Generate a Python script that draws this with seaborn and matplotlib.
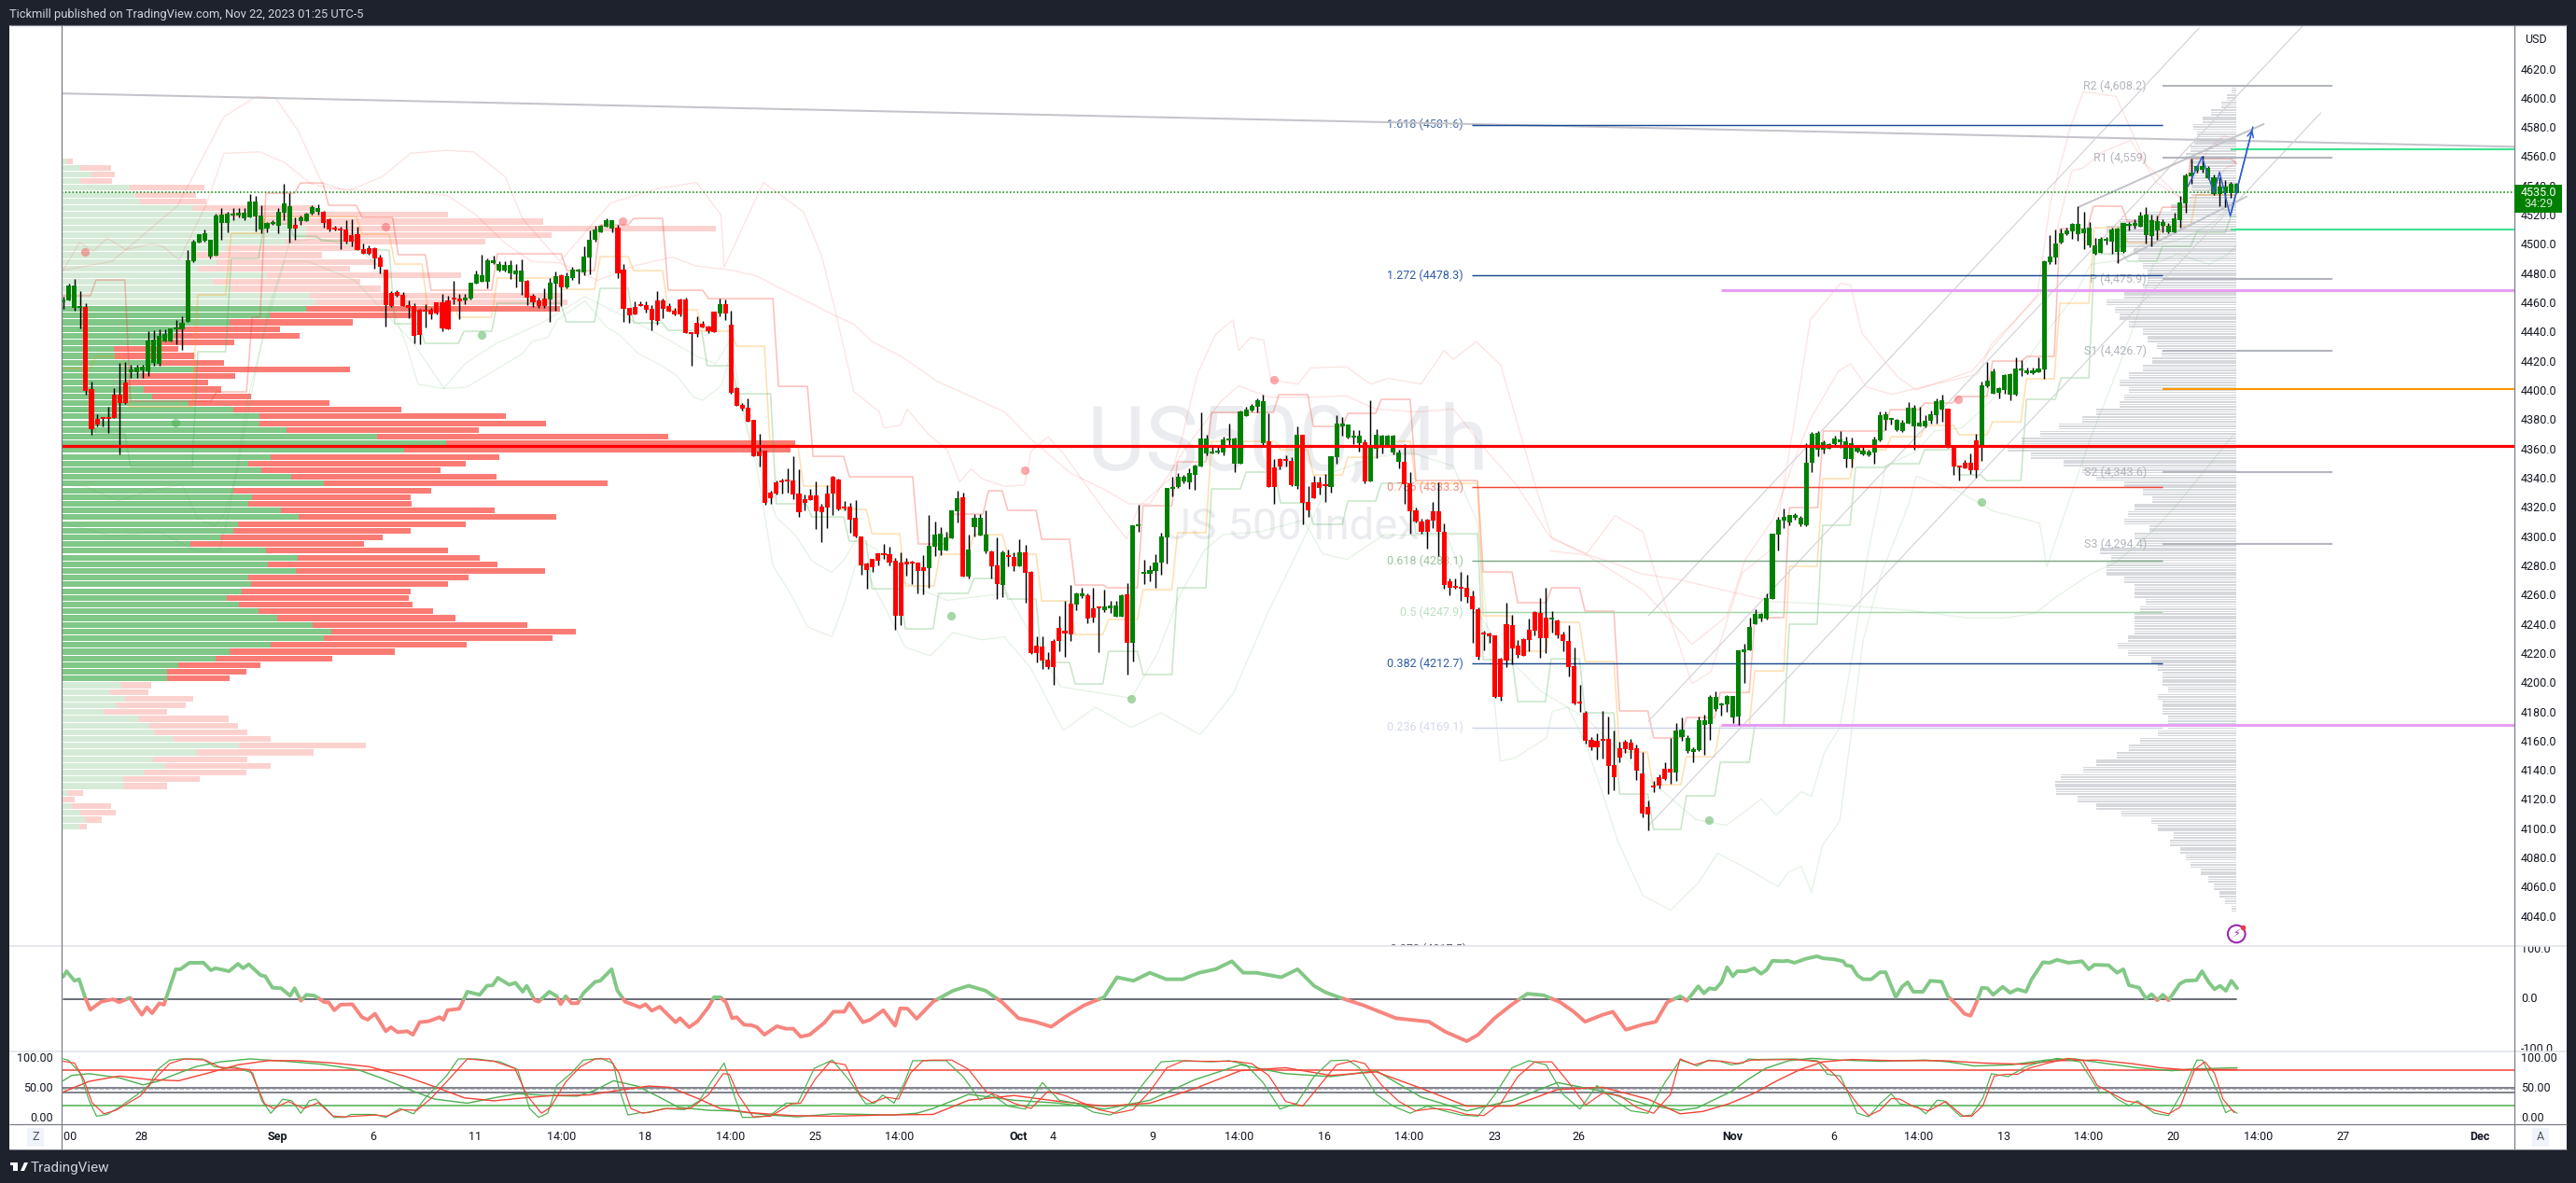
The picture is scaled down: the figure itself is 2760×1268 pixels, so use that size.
import numpy as np
import matplotlib
matplotlib.use("Agg")
import matplotlib.pyplot as plt
import seaborn as sns
from matplotlib.lines import Line2D
from matplotlib.patches import Rectangle, Polygon
from matplotlib.transforms import Bbox

W, H = 2760, 1268

# --- candles, 4h bars ---
opens = [4460.2,4461.3,4456.4,4456.4,4456.6,4400.6,4380.2,4380.8,4381.5,4396.8,
4396.8,4405.3,4412.3,4412.1,4413.6,4412.8,4418.5,4417.9,4433.4,4433.4,
4441.7,4441.7,4446.8,4488.1,4501.1,4501.9,4491.3,4492.2,4514.3,4514.3,
4519.6,4519.6,4517.5,4518.3,4519.0,4509.8,4510.7,4513.4,4512.4,4521.3,
4510.5,4513.0,4515.6,4515.6,4520.7,4522.0,4522.0,4516.9,4510.3,4509.8,
4509.8,4506.0,4506.6,4496.4,4497.1,4497.1,4490.7,4482.4,4466.4,4467.0,
4465.1,4458.1,4457.5,4454.9,4454.3,4454.9,4460.0,4460.0,4461.3,4462.6,
4462.6,4461.3,4462.6,4472.8,4474.1,4474.1,4486.8,4481.7,4481.7,4479.8,
4479.2,4474.1,4474.7,
4464.4,4461.3,4462.8,4462.0,4473.0,4478.5,4470.5,4476.5,4481.1,4480.4,
4490.6,4502.9,4508.2,4511.7,4510.4,4511.0,4482.4,4456.2,4457.1,4458.0,
4458.0,4455.6,4461.3,4461.3,4457.3,4454.3,4462.0,4462.0,4439.7,4445.9,
4445.2,4443.3,4453.6,4452.3,4458.7,4444.6,4401.2,4389.8,4387.6,4379.5,
4357.9,4358.3,4329.7,4336.8,4338.3,4338.3,4337.9,4329.1,4325.1,4327.8,
4327.8,4320.0,4329.1,4340.5,4338.5,4320.0,4320.0,4312.4,4299.6,4281.1,
4284.2,4288.2,4288.2,4287.5,4283.1,4281.8,4282.4,4282.0,4281.8,4278.5,
4277.8,4292.6,4289.9,4290.1,4298.3,4317.0,4326.4,4272.1,4306.0,4300.3,4289.7,
4289.5,4279.9,4266.7,4286.3,4285.7,4279.5,4288.9,4275.5,4225.0,4224.4,
4215.4,4228.2,4237.1,4235.2,4253.7,4253.1,4258.9,4259.5,4250.5,4251.2,
4249.3,4250.5,4244.8,4244.8,4260.1,4226.9,4306.8,4274.2,4274.2,4276.1,
4281.8,4299.1,4332.3,4333.6,4337.4,4336.8,4341.9,4347.6,4356.6,4356.4,
4357.0,4357.2,4365.5,4349.5,4349.5,4382.1,4386.0,4388.5,4363.6,4364.9,
4347.0,4352.7,4352.1,4351.5,4334.2,4369.4,4323.4,4336.8,4336.8,4334.9,
4333.6,4354.0,4375.1,4367.4,4367.4,4363.6,4364.2,4337.4,4359.8,4361.7,
4361.7,4357.2,4350.8,4350.8,4336.1,4317.6,4310.0,4311.2,4317.0,4317.0,4302.9,
4269.1,4265.3,4264.7,4264.7,4258.9,4250.0,4233.4,4232.7,4232.1,4216.1,
4239.8,4239.1,4225.1,4229.5,4235.9,4248.1,4247.4,4244.2,4242.9,4242.3,
4232.7,4228.3,4211.0,4186.1,4179.1,4160.6,4159.9,4161.2,4161.2,4143.3,
4154.8,4159.3,4158.6,4154.8,4137.6,4114.6,4129.0,4135.0,4140.8,4140.8,
4138.2,4162.5,4152.7,4152.3,4153.5,4170.8,4171.4,4181.6,4184.2,4184.8,
4175.9,4176.5,4220.6,4221.9,4239.8,4243.6,4243.6,4257.0,4301.1,4310.6,
4309.4,4312.6,4308.1,4307.5,
4350.1,4359.1,4359.1,4359.7,4362.9,4364.2,4352.9,4352.9,4357.8,4355.9,
4355.2,4357.1,4365.4,4379.5,4379.5,4372.5,4371.8,4376.9,4375.0,4375.0,
4375.0,4378.9,4382.7,4386.5,4387.2,4361.6,4347.5,4350.5,4350.5,4365.4,
4361.0,4402.5,4397.4,4398.0,4399.9,4396.7,4396.7,4413.3,4411.4,4411.4,
4412.1,4414.0,4487.4,4490.6,4500.8,4506.6,4508.5,4506.6,4507.2,4498.9,
4493.2,4493.8,4502.1,4501.5,4494.5,4494.5,4512.3,4512.3,4511.7,4505.9,
4505.3,4509.1,4512.3,4507.9,4507.9,4516.2,4527.7,4546.2,4549.8,4550.7,
4544.9,4534.1,4534.1,4534.7,4534.7,4534.7]
closes = [4461.9,4471.5,4471.5,4456.8,4399.3,4373.2,4376.3,4380.4,4380.2,4381.0,
4391.2,4391.2,4414.0,4415.3,4415.7,4433.8,4434.5,4437.0,4438.3,4441.9,
4442.1,4446.0,4488.8,4501.5,4506.6,4507.3,4502.8,4519.4,4520.1,4520.7,
4520.3,4521.3,4521.3,4529.0,4529.0,4519.4,4514.3,4514.3,4522.0,4527.7,
4525.8,4510.5,4518.1,4520.7,4525.2,4524.5,4514.3,4509.8,4509.8,4509.2,
4501.5,4501.5,4495.8,4493.2,4493.2,4490.0,4484.3,4458.1,4457.5,4464.5,
4457.5,4456.4,4437.0,4437.7,4453.6,4451.7,4452.4,4442.1,4441.5,4461.9,
4460.7,4463.2,4473.4,4479.2,4478.5,4488.8,4488.8,4486.2,4485.6,4485.6,
4481.7,4481.7,4463.2,
4459.8,4457.8,4457.8,4473.4,4477.8,4470.5,4477.8,4482.4,4482.4,4491.2,
4503.1,4509.7,4512.3,4516.3,4516.3,4479.8,4455.6,4451.0,4451.6,4457.3,
4454.9,4447.9,4447.2,4455.6,4453.6,4451.6,4451.6,4438.9,4438.4,4438.2,
4442.6,4440.0,4439.5,4458.7,4452.3,4397.9,4389.1,4387.2,4378.1,4354.6,
4354.6,4322.7,4325.8,4329.1,4336.8,4337.2,4328.4,4316.3,4322.7,4324.5,
4317.0,4316.3,4319.4,4329.1,4318.1,4318.7,4311.0,4300.0,4279.8,4276.7,
4278.7,4283.1,4287.1,4281.8,4245.3,4245.3,4280.5,4281.3,4276.1,4276.1,
4293.2,4301.0,4301.6,4299.0,4317.4,4325.8,4272.1,4290.6,4312.4,4312.4,4300.9,
4279.5,4267.2,4288.9,4285.7,4279.5,4288.9,4275.0,4219.9,4219.9,4214.8,
4210.3,4210.3,4228.2,4233.3,4232.7,4260.8,4260.8,4243.5,4244.2,4250.5,
4251.8,4252.5,4252.5,4259.5,4226.9,4307.4,4307.6,4275.5,4276.7,4281.8,
4299.7,4332.9,4333.6,4340.4,4340.4,4342.9,4348.3,4366.8,4366.8,4357.8,
4357.8,4366.2,4366.8,4366.8,4385.3,4386.6,4389.1,4393.0,4392.3,4333.6,
4333.6,4347.6,4351.5,4334.9,4369.4,4322.7,4317.6,4325.9,4332.9,4334.2,
4354.7,4377.0,4377.0,4376.4,4368.7,4368.7,4337.4,4360.4,4369.4,4368.7,
4368.7,4368.7,4357.2,4335.5,4317.0,4310.0,4302.9,4302.9,4310.6,4302.9,4266.5,
4264.7,4264.7,4264.0,4258.3,4250.0,4217.4,4232.7,4231.7,4189.9,4189.9,
4214.8,4223.2,4218.7,4218.0,4228.9,4235.3,4230.2,4230.2,4243.6,4232.1,
4228.3,4210.4,4185.5,4185.5,4159.9,4155.4,4155.4,4159.9,4142.7,4135.0,
4148.4,4154.2,4153.5,4139.5,4110.1,4109.4,4128.0,4129.3,4133.7,4138.2,
4167.0,4167.6,4161.8,4154.2,4174.0,4174.0,4189.9,4189.9,4185.5,4190.6,
4190.6,4221.9,4222.5,4237.8,4246.8,4246.8,4257.6,4301.7,4311.3,4313.2,
4314.5,4314.5,4312.6,4350.1,
4369.9,4370.8,4364.2,4362.9,4366.7,4365.9,4364.8,4363.5,4361.4,4358.2,
4357.8,4366.1,4382.7,4383.3,4380.1,4379.5,4377.6,4387.8,4387.8,4377.6,
4378.9,4383.3,4392.3,4392.9,4361.6,4347.5,4346.9,4346.3,4345.0,4345.0,
4403.1,4406.3,4412.7,4401.2,4410.1,4410.8,4414.6,4414.0,4413.3,4413.3,
4414.6,4488.1,4491.3,4500.2,4507.2,4509.1,4513.6,4513.6,4510.4,4511.1,
4498.9,4503.4,4503.4,4509.8,4510.4,4514.3,4513.6,4514.3,4519.4,4520.0,
4516.2,4515.5,4515.1,4512.3,4517.4,4528.3,4546.8,4548.7,4553.2,4553.2,
4551.9,4545.6,4539.2,4539.2,4541.1,4541.1]
highs = [4463.6,4472.8,4476.0,4467.7,4459.4,4405.7,4383.4,4381.7,4388.5,4401.3,
4418.5,4418.9,4417.2,4417.0,4417.0,4440.2,4440.9,4441.3,4441.3,4442.1,
4447.7,4450.4,4495.6,4503.0,4506.9,4509.8,4503.0,4520.5,4524.7,4522.2,
4524.7,4524.7,4524.7,4534.1,4532.8,4526.4,4515.2,4516.4,4524.7,4540.9,
4534.9,4517.9,4519.6,4521.1,4526.4,4527.1,4522.6,4517.5,4512.6,4511.5,
4516.2,4516.9,4511.5,4500.5,4499.2,4497.5,4492.4,4482.4,4467.9,4468.3,
4467.2,4461.3,4459.4,4455.8,4458.7,4456.2,4460.0,4465.6,4464.7,4474.7,
4465.8,4465.8,4473.6,4481.7,4492.4,4489.8,4491.9,4488.1,4488.1,4488.5,
4486.0,4489.2,4475.3,
4466.1,4463.1,4469.4,4476.7,4480.9,4479.3,4480.4,4484.0,4483.1,4498.3,
4509.0,4512.1,4513.0,4517.2,4516.3,4513.0,4486.2,4456.2,4460.6,4460.6,
4460.6,4458.0,4467.7,4462.8,4459.1,4456.2,4462.8,4463.1,4439.7,4450.3,
4447.0,4444.1,4453.6,4462.4,4462.0,4454.3,4401.9,4390.9,4394.2,4379.5,
4370.0,4358.3,4330.8,4338.3,4339.6,4346.2,4354.6,4345.6,4328.6,4332.2,
4337.2,4322.0,4334.8,4341.4,4339.2,4323.8,4322.5,4324.5,4299.6,4282.0,
4284.2,4288.2,4294.5,4293.0,4284.9,4289.0,4284.9,4283.1,4282.0,4286.8,
4314.3,4310.2,4306.2,4302.9,4317.9,4330.8,4329.7,4301.1,4315.0,4315.0,4317.6,
4290.4,4299.1,4290.1,4290.8,4289.1,4297.8,4294.0,4276.1,4231.4,4231.4,
4220.5,4229.5,4245.4,4255.7,4266.3,4261.2,4264.6,4260.8,4264.6,4251.8,
4263.1,4255.7,4255.7,4260.3,4267.8,4307.6,4321.4,4283.8,4279.9,4287.6,
4302.3,4332.9,4340.6,4342.9,4341.7,4346.4,4348.7,4384.7,4369.3,4361.5,
4361.0,4367.9,4377.0,4367.4,4386.0,4388.5,4390.2,4394.0,4396.6,4384.0,
4352.9,4353.6,4355.3,4354.0,4375.1,4369.4,4334.2,4341.2,4340.6,4342.7,
4354.7,4383.0,4381.5,4376.4,4372.5,4372.5,4366.2,4393.0,4373.2,4369.4,
4369.4,4369.4,4359.3,4363.0,4343.8,4319.3,4311.9,4311.9,4323.4,4337.0,4308.7,
4271.1,4271.1,4275.5,4273.6,4262.5,4251.3,4235.3,4234.0,4232.1,4216.8,
4254.4,4246.1,4228.9,4230.2,4243.4,4248.7,4257.6,4264.7,4248.7,4242.9,
4234.9,4239.1,4223.8,4198.2,4180.4,4162.5,4165.0,4180.4,4176.5,4166.7,
4159.3,4160.4,4161.2,4157.2,4152.3,4118.8,4132.2,4136.9,4145.2,4161.8,
4172.1,4175.9,4163.5,4155.4,4176.7,4177.8,4191.2,4193.8,4185.9,4191.2,
4190.6,4222.1,4226.3,4244.2,4249.8,4247.6,4260.8,4301.7,4313.2,4319.0,
4314.7,4315.8,4314.1,4363.5,
4371.0,4372.0,4365.6,4363.5,4368.4,4371.6,4367.8,4367.3,4362.0,4361.0,
4359.3,4367.8,4385.4,4385.2,4380.6,4380.1,4379.5,4391.6,4389.7,4388.4,
4382.7,4385.9,4394.0,4396.5,4387.2,4361.6,4347.5,4351.8,4356.9,4369.9,
4405.7,4419.1,4414.6,4401.8,4410.8,4411.4,4422.3,4420.4,4415.2,4415.2,
4422.3,4488.7,4506.2,4509.8,4510.4,4511.0,4514.3,4525.8,4521.9,4515.1,
4504.0,4504.7,4504.7,4511.1,4511.1,4514.3,4515.1,4516.8,4521.7,4524.9,
4520.0,4519.4,4516.8,4514.3,4521.3,4532.8,4548.1,4558.3,4554.1,4560.5,
4553.2,4547.3,4545.6,4543.4,4542.1,4541.9]
lows = [4455.5,4461.3,4454.5,4442.3,4397.0,4369.3,4375.3,4375.3,4370.6,4381.0,
4356.1,4390.6,4408.3,4408.3,4408.3,4409.3,4416.8,4416.8,4433.4,4433.4,
4431.3,4427.4,4446.8,4487.7,4501.1,4501.5,4490.2,4491.7,4503.0,4507.7,
4516.4,4517.9,4516.4,4517.9,4508.8,4507.3,4507.9,4513.2,4507.3,4516.2,
4500.9,4503.0,4513.0,4515.6,4520.1,4520.1,4511.1,4508.8,4509.4,4496.6,
4500.5,4498.3,4495.8,4493.2,4492.4,4483.0,4480.0,4443.4,4456.8,4463.6,
4457.5,4449.2,4432.1,4431.3,4442.6,4448.5,4451.7,4440.2,4441.5,4458.7,
4448.5,4458.7,4462.1,4472.8,4474.1,4469.6,4486.4,4481.3,4480.9,4476.0,
4470.2,4465.1,4458.3,
4456.9,4456.2,4456.5,4446.8,4454.0,4457.3,4469.7,4475.6,4472.7,4478.5,
4479.3,4501.6,4507.7,4511.7,4508.0,4476.5,4446.8,4445.9,4451.6,4457.3,
4453.2,4440.8,4444.8,4449.2,4453.6,4451.2,4450.3,4438.9,4416.6,4436.7,
4442.6,4438.9,4439.5,4450.3,4447.7,4397.5,4389.1,4385.8,4378.1,4354.6,
4347.6,4321.6,4322.0,4328.2,4329.1,4329.7,4325.1,4313.2,4317.9,4324.5,
4304.7,4295.9,4305.5,4314.3,4317.4,4317.4,4302.2,4299.2,4273.4,4264.0,
4275.4,4279.8,4284.2,4279.8,4235.8,4238.9,4273.2,4267.0,4260.7,4260.0,
4264.4,4286.4,4287.1,4290.1,4298.3,4309.3,4272.1,4271.0,4300.0,4300.3,4288.2,
4271.0,4257.1,4258.2,4279.3,4276.1,4279.5,4254.4,4219.3,4213.5,4209.2,
4209.2,4198.4,4221.4,4217.3,4228.2,4249.3,4257.8,4240.3,4241.0,4220.5,
4248.0,4247.6,4244.8,4244.8,4205.2,4214.1,4302.9,4267.2,4269.1,4264.6,
4273.5,4281.2,4327.2,4332.9,4335.9,4332.3,4331.7,4347.6,4355.3,4356.4,
4356.6,4355.3,4361.0,4343.8,4349.5,4382.1,4385.5,4384.7,4361.0,4333.6,
4322.1,4345.7,4347.6,4334.2,4332.3,4308.0,4313.1,4325.9,4328.5,4323.4,
4329.5,4349.8,4368.9,4366.8,4362.9,4357.8,4336.4,4337.4,4353.4,4356.6,
4361.7,4355.9,4346.4,4322.1,4301.6,4309.3,4301.6,4291.4,4305.5,4286.3,4264.0,
4259.6,4264.0,4255.7,4254.4,4227.0,4215.5,4222.1,4227.0,4189.3,4187.4,
4210.4,4212.3,4216.8,4218.0,4221.2,4232.1,4216.8,4220.0,4234.0,4230.2,
4221.2,4204.0,4184.8,4179.5,4158.0,4153.5,4147.1,4147.6,4123.5,4126.0,
4145.4,4151.6,4147.8,4133.1,4107.6,4098.6,4124.8,4127.4,4133.1,4130.5,
4132.5,4159.9,4151.6,4145.2,4152.7,4150.3,4160.6,4180.4,4176.9,4179.5,
4172.1,4171.0,4199.5,4221.9,4239.8,4241.7,4243.0,4257.0,4290.2,4305.5,
4307.5,4311.3,4306.8,4307.0,
4343.9,4354.6,4356.5,4359.7,4362.5,4360.3,4346.9,4346.9,4357.1,4355.0,
4354.6,4349.5,4364.6,4372.5,4376.3,4371.8,4371.0,4376.9,4359.0,4375.0,
4374.4,4376.9,4376.9,4378.4,4360.3,4341.8,4337.9,4346.3,4342.4,4340.1,
4351.4,4401.8,4397.4,4394.2,4397.4,4392.9,4396.1,4409.9,4410.8,4411.0,
4412.1,4407.6,4485.9,4486.1,4500.0,4505.9,4503.4,4502.1,4496.6,4497.6,
4492.3,4493.6,4499.6,4493.2,4486.8,4493.8,4509.4,4510.4,4511.5,4500.2,
4498.3,4502.8,4507.9,4507.2,4507.9,4510.9,4521.3,4541.3,4548.7,4549.0,
4544.1,4533.6,4526.0,4525.1,4531.5,4534.5]

# --- left volume profile (fixed range) ---
vp_levels = [4556.7,4552.1,4547.5,4542.9,4538.3,4533.7,4529.1,4524.5,4519.9,4515.3,
4510.7,4506.1,4501.5,4496.9,4492.3,4487.7,4483.1,4478.5,4473.9,4469.3,
4464.7,4460.1,4455.5,4450.9,4446.3,4441.7,4437.1,4432.5,4427.9,4423.3,
4418.7,4414.1,4409.5,4404.9,4400.3,4395.7,4391.1,4386.5,4381.9,4377.3,
4372.7,4368.1,4363.5,4358.9,4354.3,4349.7,4345.1,4340.5,4335.9,4331.3,
4326.7,4322.1,4317.5,4312.9,4308.3,4303.7,4299.1,4294.5,4289.9,4285.3,
4280.7,4276.1,4271.5,4266.9,4262.3,4257.7,4253.1,4248.5,4243.9,4239.3,
4234.7,4230.1,4225.5,4220.9,4216.3,4211.7,4207.1,4202.5,4197.9,4193.3,
4188.7,4184.1,4179.5,4174.9,4170.3,4165.7,4161.1,4156.5,4151.9,4147.3,
4142.7,4138.1,4133.5,4128.9,4124.3,4119.7,4115.1,4110.5,4105.9,4101.3]
vp_buy = [6,20,32,20,73,79,84,141,167,216,262,262,240,176,144,166,146,219,162,181,266,272,
262,223,180,124,121,107,56,57,104,142,85,70,88,97,136,184,212,212,241,338,412,367,224,200,
214,246,281,184,204,200,235,254,189,184,170,138,219,253,221,251,200,203,193,177,190,211,231,
269,289,281,224,180,165,125,113,113,
64,52,68,59,45,82,94,99,120,190,145,98,111,88,66,66,7,1,11,20,25,19]
vp_sell = [6,33,25,34,80,65,71,132,247,300,439,263,214,141,135,171,163,209,158,161,271,270,
272,153,132,110,134,78,69,85,70,167,101,87,83,106,151,180,264,307,206,312,374,414,245,233,
192,220,304,212,170,175,229,276,244,190,174,186,195,195,246,267,236,211,181,195,186,187,191,
230,262,245,210,177,125,88,85,67,
32,41,73,74,68,97,95,100,104,136,125,101,113,110,82,47,16,13,42,38,18,8]

# --- right volume profile ---
vr_levels = [4605,4600,4595,4590,4585,4580,4575,4570,4565,4560,4555,4550,4545,4540,4535,4530,4525,4520,4515,4510,
4505,4500,4495,4490,4485,4480,4475,4470,4465,4460,4455,4450,4445,4440,4435,4430,4425,4420,4415,4410,
4405,4400,4395,4390,4385,4380,4375,4370,4365,4360,4355,4350,4345,4340,4335,4330,4325,4320,4315,4310,
4305,4300,4295,4290,4285,4280,4275,4270,4265,4260,4255,4250,4245,4240,4235,4230,4225,4220,4215,4210,
4205,4200,4195,4190,4185,4180,4175,4170,4165,4160,4155,4150,4145,4140,4135,4130,4125,4120,4115,4110,
4105,4100,4095,4090,4085,4080,4075,4070,4065,4060,4055,4050,4045]
vr_vol = [5,10,16,27,36,46,42,45,49,54,50,50,48,48,48,50,70,96,125,139,
135,128,110,105,100,95,95,100,120,139,130,125,115,100,95,85,80,90,100,115,
125,115,120,125,150,165,190,210,230,245,220,185,165,150,120,100,90,109,116,120,
93,109,101,146,134,139,139,120,109,109,97,103,109,109,109,116,127,116,91,84,
79,79,73,84,79,79,73,73,84,103,115,128,150,164,188,194,193,170,150,123,
91,84,67,71,60,54,49,38,30,24,18,12,5]

# --- step channel (Donchian like) ---
red_step_bars = [0,5.8,11.9,27.1,33.4,35.8,41.9,46.9,52.8,59.2,65,76.7,89,94.9,100.8,106.9,114,126.4,132.5,138.9,151.1,157.2,163.5,166.9,172.9,178.8,184.7,190.8,196.9,202.9,214.8,220.9,227,232.9,239,250.9,257,263,268.9,275,281,286.8,292.8,298.9,305,311,322.8,328.9,334.8,340.9,347,352.8,358.7,364.7,370.9,375.9,384]
red_step_vals = [4464.5,4475.3,4392.3,4398.7,4449.8,4534.7,4541.7,4526.4,4518.1,4492.6,4468.3,4493.2,4481.7,4513,4517.5,4468.3,4462.5,4402.5,4354.6,4340.6,4294.6,4315,4331,4317.6,4297.8,4266.5,4264.6,4320.8,4350.8,4384.6,4396.8,4375,4384,4393.6,4338,4275.4,4254.4,4264.6,4248.6,4180.3,4161.8,4175.8,4193,4244.1,4319.5,4371.9,4386.5,4391,4395.5,4419.8,4423,4510.4,4525.8,4515.6,4525.1,4558.3,4555.1]
mid_step_bars = [0,5.8,11.6,23.8,29.7,35.8,52.8,58.6,64.4,70,76.7,88,94.9,100.8,106.9,113,119,124.9,130.8,137.1,142.9,148.8,154.9,160.9,166.9,172.9,178.8,184.7,190.8,196.9,202.9,215.1,220.9,227,232.9,239,250.9,256.8,262.9,268.9,275,280.9,286.8,292.8,298.9,305,310.9,316.7,323,329.1,335,340.9,346.9,352.8,358.9,364.8,370.9,376.9,384]
mid_step_vals = [4414.7,4423,4388.5,4465.1,4507.2,4518.7,4506.6,4486.2,4456.2,4449.8,4476.6,4468.9,4491.3,4481.7,4454.9,4440.2,4430,4362.3,4334.2,4318.2,4301.6,4265.9,4287.6,4301,4287.6,4255.6,4232.6,4242.9,4263.3,4302.3,4364.8,4359,4341.8,4354,4364.8,4336.1,4245.4,4221.2,4241,4214.1,4152.2,4129.8,4149,4170,4207.7,4279.3,4339.3,4359.1,4368,4375.7,4369.3,4378.2,4407.6,4459.4,4511.1,4500.9,4512.4,4533.4,4533.4]
low_step_bars = [0,5.8,11.9,17.7,23.8,29.7,35.5,40.8,45.7,52.8,58.6,63.9,70.8,76.7,88.9,94.9,100.8,106.9,113.8,119.1,126,132.3,138.9,142.9,148.8,154.7,160.9,166.9,172.9,178.8,184.7,190.8,196.9,202.9,209,215.1,220.9,227,232.9,239,250.9,257,262.9,268.9,275,281,286.8,292.8,298.9,305,310.9,316.7,322.8,328.9,335,339.8,346.9,353,358.9,364.8,370.9,376.9,383]
low_step_vals = [4385.9,4369.9,4347.6,4347.6,4426.2,4490,4513.6,4505.3,4502.1,4495.8,4445.3,4431.9,4440.2,4459.4,4446.6,4469.6,4445.9,4440.8,4416.6,4397.4,4322.1,4313.1,4296.5,4263.9,4236.5,4260.8,4271,4256.9,4213.5,4198.8,4221.1,4205.2,4264.6,4332.3,4343.8,4322.7,4308,4324,4336.1,4301.6,4215.4,4186.7,4216,4179,4123.4,4099.2,4122.2,4145.2,4170.7,4239.7,4307.4,4347,4349.5,4359.1,4341.9,4338,4393.6,4408.3,4493.2,4488.1,4498.3,4507.9,4518.7]

# --- smooth bands ---
band_a_bars = [0,8.6,20.2,28.4,34.2,37.5,41.6,45.7,50.2,56.4,61.4,67.7,72.5,78.1,81.2,87.8,96.7,105.3,111.9,116.2,116.8,123.7,130.8,134,136.3,139.7,144.2,145,148,149.1,152.8,156.2,158.4,160.4,162.5,166.4,169.9,171,174,176.8,183.9,187.9,190,195.5,197.8,200.4,203.6,206.7,207.7,209.8,212.1,213.4,218.2,220.4,226.7,231,234.1,239.9,244,245.6,249.7,254,260.3,263.1,269.2,274.2,279.1,281.9,287.8,291.1,296.7,302.2,305.5,308.7,314,315.8,317.8,324.1,327.4,337.3,343.9,348.8,351.1,354.6,356.9,362.7,368.1,374.6,379,381.8,384]
band_a_vals = [4482,4488,4526,4587,4601,4600,4577,4542,4536,4546,4562,4564,4563,4546,4517,4488,4528,4538,4542,4520,4484,4542,4522,4492,4456,4399,4385,4374,4376,4387,4370,4359,4337,4346,4339,4334,4335,4358,4368,4356,4318,4298,4320,4339,4369,4411,4438,4448,4427,4436,4434,4407,4404,4415,4416,4404,4408,4404,4427,4421,4433,4417,4332,4298,4288,4314,4303,4267,4199,4207,4275,4292,4370,4448,4473,4472,4439,4409,4400,4413,4443,4465,4528,4579,4604,4601,4554,4530,4565,4574,4571]
band_b_bars = [0,2.9,5.3,7.8,11.1,15.6,17.7,20.5,25.4,28.4,34.7,39,43.8,47.5,54.8,61.4,68,72.9,77.9,82.8,87.8,94.4,101,107.6,111.7,118.1,122.6,126.5,131.8,135.8,139.7,143,148.1,154.4,160.7,166.3,171.4,178,183.9,188.4,192,198.3,204.5,207.7,213,220.4,226.7,231.9,239.3,245.6,251.1,256.8,262.6,268.7,273.6,279.1,285.7,296.7,302.2]
band_b_vals = [4482,4501,4495,4504,4496,4500,4498,4489,4528,4562,4563,4556,4541,4538,4536,4536,4533,4520,4501,4488,4487,4475,4485,4491,4485,4482,4478,4470,4460,4452,4445,4433,4423,4406,4395,4385,4365,4343,4332,4322,4322,4360,4392,4403,4395,4395,4396,4387,4385,4387,4360,4335,4300,4288,4282,4274,4270,4260,4255]
band_c_bars = [262.6,269.2,274.2,279.1,287.8,293.9,297.2,302.2,305.5,308.7,313.7,315.8,318.6,323.1,327.4,338.4,340.6,345,350,352.1,354.9,356.9,360.4,365.3,369.8,374.7,379,382.1,384]
band_c_vals = [4290,4287,4275,4263,4226,4245,4284,4312,4348,4380,4413,4418,4402,4397,4401,4411,4431,4448,4469,4507,4550,4552,4563,4571,4542,4530,4536,4552,4555]
band_d_bars = [302.2,309.4,316.7,326.6,336.5,342.9,348.4,352,358.2,362.7,369.1,373.6,379,383.6]
band_d_vals = [4255,4254,4252,4249,4244,4244,4247,4258,4274,4282,4303,4322,4348,4370]
band_e_bars = [0,4,9.6,16.2,21,23.8,26.8,28.6,30.6,34.2,36.2,40,44.9,51.5,56.1,58.6,60.6,62.7,67.2,71,76.6,81.2,84.6,92.2,99.8,104.3,108,112,115.3,117.8,120.9,126,129.5,132.3,135.8,138,140.2,143.7,148.1,156.2,166.8,176.2,188.7,193.4,197.1,201.6,204.9,211.5,219.2,222.5,226.8,233.4,244.5,249.4,254.4,261,269.2,279.1,288.5,293.9,300,302.7,307.1,308.9,311.2,313.9,316.2,318.7,322,327.4,330.7,335.5,345.1,349.5,355.3,358.2,363.7,367,369.8,374.7,379.7,384]
band_e_vals = [4335,4334,4324,4332,4335,4312,4307,4316,4341,4416,4454,4501,4504,4498,4484,4452,4431,4404,4401,4418,4432,4440,4446,4464,4449,4440,4432,4423,4418,4434,4372,4313,4300,4283,4275,4284,4298,4291,4269,4256,4261,4197,4189,4220,4258,4290,4301,4303,4311,4288,4284,4301,4300,4252,4220,4194,4175,4137,4106,4102,4120,4109,4125,4122,4152,4169,4220,4284,4348,4358,4372,4374,4409,4435,4464,4486,4489,4499,4499,4504,4514,4530]
band_f_bars = [0,8.6,16.9,23.5,27.6,29.6,32.5,35.8,39.1,43.3,51.5,56.1,61.7,67.3,71.3,81.2,82.8,85.6,87.3,92.2,96,98.2,101.6,105.1,108.4,111.4,113,116.3,117.8,122.6,125.4,128.9,131.5,135.8,138,140,141.4,143.7,148.8,153.2,157.2,162.3,166.3,170.9,176.7,182.4,188.7,194,200.9,206.7,212.9,218.2,224.5,231.9,238.2,245.6,249.9,253.9,256.5,262.1,263.1,265.9,269.2,272.5,274.6,279.1,284,289,292.3,297.2,303,304.8,307.1,308.9,310.8,313.9,316.2,318,321.1,326.1,327.4,335.2,341.1,349.2,350.5,353.7,358.2,362.7,366,369.3,373.6,379.2,382.5,384]
band_f_vals = [4309,4300,4303,4290,4290,4322,4392,4443,4488,4488,4475,4456,4433,4401,4402,4425,4433,4436,4448,4461,4443,4438,4425,4418,4410,4395,4393,4403,4423,4346,4280,4258,4238,4231,4254,4280,4280,4262,4224,4218,4234,4229,4231,4210,4167,4183,4169,4179,4164,4192,4248,4290,4344,4354,4357,4348,4309,4146,4148,4162,4180,4183,4156,4118,4092,4054,4044,4063,4083,4073,4060,4070,4074,4056,4088,4105,4173,4228,4273,4322,4341,4330,4317,4309,4279,4316,4367,4411,4445,4486,4493,4486,4493,4499]

# --- levels and text ---
fib_levels = [4581.6,4478.3,4333.3,4283.1,4247.9,4212.7,4169.1]
fib_names = ["1.618 (4581.6)","1.272 (4478.3)","0.786 (4333.3)","0.618 (4283.1)","0.5 (4247.9)","0.382 (4212.7)","0.236 (4169.1)"]
fib_line_colors = ["#1c4a94","#1c4a94","#f44336","#7fa886","#a5d6a7","#1c4a94","#cdd4e6"]
fib_text_colors = ["#4a6fa5","#2f5ba8","#f8897f","#9cc49f","#bce0bd","#2f5ba8","#d3d9ec"]
pivot_levels = [4608.2,4559.0,4475.9,4426.7,4343.6,4294.4]
pivot_names = ["R2 (4,608.2)","R1 (4,559)","P (4,475.9)","S1 (4,426.7)","S2 (4,343.6)","S3 (4,294.4)"]
signal_red_bars = [3.8,57,98.8,169.9,213.9,334.8]
signal_red_vals = [4494.5,4511.7,4515.9,4345,4407,4393.6]
signal_green_bars = [19.8,73.9,156.9,188.7,290.8,339]
signal_green_vals = [4377.6,4437.6,4245.4,4188.6,4105.6,4323.3]
path_bars = [375.4,377.9,380,381,382.9,386.9]
path_vals = [4539.2,4559.5,4535,4549.2,4519,4580.1]
tick_bars = [13.9,37.9,54.8,72.8,88,102.8,117.9,132.8,147.8,168.8,174.9,192.5,207.7,222.8,237.8,253,267.7,295,312.9,327.9,342.9,357.9,372.8,387.9,402.8,427]
tick_names = ["28","Sep","6","11","14:00","18","14:00","25","14:00","Oct","4","9","14:00","16","14:00","23","26","Nov","6","14:00","13","14:00","20","14:00","27","Dec"]
price_ticks = [4040,4060,4080,4100,4120,4140,4160,4180,4200,4220,4240,4260,4280,4300,4320,4340,4360,4380,4400,4420,4440,4460,4480,4500,4520,4540,4560,4580,4600,4620]

# --- RSI style pane ---
rsi_bars = [0,0.6,2,2.8,3.9,4.8,6.7,8.8,9.9,11.8,13.9,14.8,15.7,17,17.8,19.9,20.7,22.3,24.8,26.1,26.9,28.6,29.3,30.9,31.8,32.8,34.9,35.7,37,38.5,40.1,40.9,42,43,44.4,46.2,46.9,47.9,49,51.1,52.8,53.8,55.1,57,57.9,59.1,60.8,61.8,63,64.6,66.5,67.2,67.9,70,71.4,73.6,74.9,75.9,76.8,78.8,79.9,81.2,81.9,83.3,84,85.9,87.2,87.9,88.8,89.8,90.9,91.9,94,94.9,96.9,97.9,99.3,101.9,102.9,104,105.4,108.2,109,110.6,112.1,114,115,116.1,117.1,118.2,119,120.3,121.6,122.6,123.9,126.1,127.7,129,130.3,131.9,134.5,136.1,138,138.9,141.3,142.6,144.9,147,147.9,149.2,150.8,153.7,
157.2,160,163,165.9,168.8,171.7,174.6,177.5,180.4,183.9,186.2,189.1,192,194.9,197.8,200.7,203.6,206.5,208.5,210.8,215.2,218.1,221,223,225.4,229.7,235.5,241.3,244.2,248,250,252.9,255.8,258.7,261.6,264.5,266.9,268.9,271.8,273.8,276.1,279,281.4,283.4,
285.7,286.9,288.9,289.9,290.9,291.9,293,294,295,295.8,297.3,298.8,300,301,302,303.8,304.7,305.9,307.9,309.9,310.9,312.9,314.5,315,316,317,318,319.5,321,322,323.8,324.9,325.9,326.9,328.6,329.9,331.9,333,334.7,335.9,337,338,339,340,341,342.7,344,345.3,346.8,347.8,349.8,351,352.3,354.3,356.7,357.9,358.9,361.4,362.9,364,365,366.8,368,369,370,371,372,374,375,376.9,377.9,379.1,380.1,381.1,382.1,383.1,384.1]
rsi_vals = [44,55,36,39,2,-22,-6,-1,-7,2,-32,-17,-29,-9,-12,59,59,72,72,57,61,57,55,70,61,69,47,45,22,21,6,21,-4,8,6,-7,-7,-23,-12,-11,-37,-42,-30,-65,-57,-67,-65,-72,-47,-45,-37,-42,-23,-20,14,8,26,27,42,28,32,14,26,-3,-6,14,5,-11,5,-9,-9,11,34,36,59,17,-6,-17,-11,-24,-16,-47,-39,-57,-45,-17,3,3,-7,-39,-37,-52,-53,-57,-72,-55,-60,-60,-76,-72,-48,-26,-26,-9,-47,-42,-23,-54,-19,-20,-40,-6,
16,26,16,-7,-39,-46,-56,-33,-13,3,43,36,52,39,39,52,59,75,52,52,43,59,26,13,3,-13,-39,-46,-66,-85,-72,-39,-13,10,7,-7,-26,-46,-33,-26,-62,-52,-46,-7,
5,-4,25,11,21,19,33,63,45,55,55,61,50,58,76,75,76,72,80,85,81,79,75,67,65,47,39,39,53,53,3,24,33,14,14,36,34,5,-14,-30,-34,-9,22,21,8,24,12,19,14,39,73,72,78,72,75,59,68,67,52,59,27,22,0,9,-3,8,-3,30,36,37,55,33,19,26,16,36,21]

# --- stochastic pane ---
fast_g_bars = [0,0.9,3,4.6,5.9,7.8,9.9,13,15.1,16.7,18.8,20.9,24.6,26.7,28.8,30.4,33.5,35.1,36.7,38.8,40.4,42,43.5,44.6,46.2,47.9,49.8,50.9,55.1,57,59.5,61.9,64,67.7,69.8,73,77.2,80.3,82.4,84,85.6,87.2,89.8,91.9,95.1,97.2,98.2,99.8,101.9,103.5,106.1,109.8,112.4,114.5,116.8,118.7,120,122.4,125,127.7,129.8,132.7,135.9,138.7,141.8,143.4,144.8,146.8,148.7,150.1,153.7,
156,159,162,164,167,170,173,176,179,182,185,188,191,194,197,200,203,206,209,212,215,218,221,224,227,229,232,235,238,241,244,247,250,253,256,259,262,265,268,271,274,277,280,283,
285.7,287.7,288.7,290.7,292.7,294.8,296.8,297.8,299.3,305.9,309.9,311.7,314,317,319,321,323,324.5,327.6,329.1,331.1,332.3,335.2,337.2,339.2,340.7,343.7,346.8,350.3,352.3,356.4,359.9,361.4,362.9,365,366.5,369.5,372,374.5,377,378,380.6,382.1,383.1,384.1]
fast_g_vals = [100,98,76,29,3,6,18,39,55,82,98,100,100,87,84,86,76,29,8,32,29,8,29,32,18,1,1,6,6,1,16,7,34,71,100,100,95,82,16,1,8,55,76,98,101,92,50,5,9,9,16,14,29,61,93,34,1,1,5,25,25,84,98,66,24,25,39,25,61,97,97,
97,70,30,40,20,15,60,30,25,10,5,20,60,95,97,96,95,97,90,60,15,25,70,97,98,85,40,20,8,20,12,5,3,40,85,97,90,40,15,55,30,12,8,60,
98,92,88,98,96,90,93,100,99,100,97,74,71,8,2,24,41,24,19,7,30,29,3,5,34,75,70,87,97,101,95,42,45,32,21,29,8,4,45,98,98,45,9,14,8]
fast_r_bars = [0,2,3.6,5.1,7.2,9.3,13.6,16.2,18.8,21.4,25.1,27.7,30.4,33,35.6,37.2,39.8,42.5,45.1,47.7,49.8,55.1,57.2,59.8,62.5,65.1,68.2,71.4,76.1,79.8,81.9,84.5,86.1,88.8,91.4,94,96.6,98.2,100.3,102.4,106.6,110.8,114,116.6,117.7,119.3,121.9,125,128.7,130.3,132.9,135.5,138.2,140.8,142.9,145.5,147.6,149.7,151.9,153.7,
157,160,163,165,168,171,174,177,180,183,186,189,192,195,198,201,204,207,210,213,216,219,222,225,228,230,233,236,239,242,245,248,251,254,257,260,263,266,269,272,275,278,281,284,
285.7,288.2,290.7,293.2,295.8,298.3,305.9,310.4,312.9,315,317,319,321,323,324.5,327,329.6,332.6,335.7,337.2,339.2,341.2,343.2,345.3,347.3,350.3,354.3,356.9,359.4,361.9,364.4,366.5,369.5,372,374,376.6,378.4,380.1,381.6,383.6]
fast_r_vals = [96,93,66,26,7,13,37,66,92,100,98,86,84,82,24,16,28,16,26,3,2,5,3,14,13,34,66,100,96,84,39,8,18,61,87,100,100,76,16,8,16,16,39,75,74,39,2,3,24,25,66,95,90,39,26,35,32,76,97,98,
98,82,45,38,25,16,45,38,26,14,8,14,45,85,97,96,96,96,92,72,28,20,55,90,97,92,55,28,12,16,14,6,4,25,70,95,95,60,22,42,38,18,8,40,
100,90,97,96,92,98,99,95,74,50,24,4,13,33,32,19,12,28,3,3,21,71,74,74,84,92,101,97,55,42,29,26,13,7,18,82,95,76,32,9]
slow_g_bars = [0,1.5,4.6,9.9,14.1,16.7,20.4,23.5,27.8,33,39.3,45.6,52,56.1,61.4,65.6,71.4,76.1,80.3,85.6,90.9,94,97.2,101.4,105.6,108.7,114,118.2,124.5,129.8,136.1,141.3,146.6,150.8,153.7,160,168,176,184,192,200,208,216,224,232,240,248,256,264,272,280,285.7,288.7,290.2,294.8,297.8,300.8,304.9,308.9,314,321,329.1,333.1,337.7,344.2,350.3,355.4,360.4,366.5,372.5,376.6,384.1]
slow_g_vals = [63,72,75,68,56,62,76,87,95,100,96,91,82,68,47,32,25,34,41,38,37,47,63,54,34,18,13,12,5,2,7,6,5,8,16,40,30,25,15,30,65,90,75,70,80,35,12,30,60,45,22,13,17,24,45,66,84,97,101,98,96,98,95,88,90,98,100,93,85,80,83,85]
slow_r_bars = [0,4.6,9.9,15.1,20.4,25.6,30.9,36.2,41.4,47.7,54,60.3,65.6,70.9,76.1,81.4,86.6,93,98.2,103.5,107.2,111.9,116.1,121.4,128.7,136.1,144.5,153.7,160,168,176,184,192,200,208,216,224,232,240,248,256,264,272,280,285.7,289.7,294.3,298.8,302.8,306.9,310.9,316,323,332.1,339.2,346.3,352.3,359.4,365.5,370.5,374.5,384.1]
slow_r_vals = [44,62,71,65,63,76,90,97,97,93,87,71,53,34,29,34,38,39,47,54,52,34,16,9,4,3,5,6,30,38,28,20,25,50,80,85,72,78,50,20,20,48,52,32,7,11,24,42,63,82,95,99,97,97,93,91,97,98,92,85,82,82]
stoch_levels = [80.6,51.5,42.6,20.5]


def to_fig(x, y):
    return x / W, 1 - y / H


def pane(left, top, right, bottom, **kw):
    return fig.add_axes([left / W, 1 - bottom / H, (right - left) / W, (bottom - top) / H], **kw)


def px_line(x0, y0, x1, y1, color, width):
    fig.add_artist(Line2D([x0 / W, x1 / W], [1 - y0 / H, 1 - y1 / H], color=color, lw=width * 0.72,
                          transform=fig.transFigure, zorder=10, solid_capstyle="butt"))


def clipped_text(x, y, s, box, **kw):
    t = fig.text(x / W, 1 - y / H, s, zorder=9, **kw)
    t.set_clip_box(Bbox([[box[0], H - box[3]], [box[2], H - box[1]]]))
    t.set_clip_on(True)
    return t


def draw_line(ax, xs, ys, color, width, alpha=1.0, zorder=3):
    sns.lineplot(x=list(xs), y=list(ys), ax=ax, color=color, linewidth=width * 0.72, alpha=alpha,
                 estimator=None, sort=False, errorbar=None, legend=False, zorder=zorder)


def step_path(bars, vals, end):
    xs, ys = [], []
    for i, (b, v) in enumerate(zip(bars, vals)):
        nxt = bars[i + 1] - 1 if i + 1 < len(bars) else end
        xs += [b, max(b, nxt)]
        ys += [v, v]
    return xs, ys


def sign_runs(xs, ys):
    runs, cx, cy = [], [xs[0]], [ys[0]]
    for i in range(1, len(xs)):
        if ys[i - 1] * ys[i] < 0:
            t = -ys[i - 1] / (ys[i] - ys[i - 1])
            xc = xs[i - 1] + t * (xs[i] - xs[i - 1])
            cx.append(xc)
            cy.append(0)
            runs.append((cx, cy))
            cx, cy = [xc], [0]
        cx.append(xs[i])
        cy.append(ys[i])
    runs.append((cx, cy))
    return runs


sns.set_theme(style="white")
plt.rcParams["font.family"] = ["Roboto", "DejaVu Sans"]
plt.rcParams["axes.unicode_minus"] = False

DARK = "#1e222d"
TXT = "#131722"
AXIS = "#787b86"
SEP = "#e0e3eb"
GREEN = "#008000"
RED = "#ff0000"

fig = plt.figure(figsize=(W / 100, H / 100), dpi=100, facecolor=DARK)
fig.add_artist(Rectangle((10 / W, 1 - 1232 / H), 2740 / W, 1205 / H, transform=fig.transFigure,
                         facecolor="white", edgecolor="none", zorder=-5))

X_MIN, X_MAX = -0.36, 433.1
Y_MIN, Y_MAX = 4019.4, 4649.7

ax = pane(65.5, 27, 2694, 1014)
ax.set_zorder(3)
ax.patch.set_visible(False)
ax_left = ax.twiny()
ax_left.set_zorder(1)
ax_left.axis("off")
ax_right = ax.twiny()
ax_right.set_zorder(2)
ax_right.axis("off")

# watermark + profiles under the candles
ax_left.set_xlim(0, 2694 - 65.5)
ax_right.set_xlim(2396 - 65.5, 2396 - 2694)
ax_left.text(1380 - 65.5, 4362, "US500, 4h", fontsize=69, color="#eaecef", ha="center", va="center", zorder=0)
ax_left.text(1383 - 65.5, 4306, "US 500 Index", fontsize=34, color="#eaecef", ha="center", va="center", zorder=0)

buy = np.array(vp_buy, float)
sell = np.array(vp_sell, float)
dark_row = np.array([22 <= i < 78 for i in range(len(vp_levels))])
buy_cols = np.where(dark_row, "#80c788", "#d6ebd7")
sell_cols = np.where(dark_row, "#f97b74", "#fcd2cf")
ax_left.barh(vp_levels, buy, height=3.9, color=buy_cols, linewidth=0, zorder=1)
ax_left.barh(vp_levels, sell, left=buy, height=3.9, color=sell_cols, linewidth=0, zorder=1)
# thin stripes per 5 point row
for off in (-1.6, 0, 1.6):
    ax_right.barh(np.array(vr_levels) + off, vr_vol, height=1.05, color="#d6d8dc", linewidth=0, zorder=1)

# channel + bands
for bars, vals, col, a in [(red_step_bars, red_step_vals, "#f44336", 0.33),
                           (mid_step_bars, mid_step_vals, "#ff9800", 0.3),
                           (low_step_bars, low_step_vals, "#4caf50", 0.3)]:
    xs, ys = step_path(bars, vals, 384)
    draw_line(ax, xs, ys, col, 1.6, alpha=a)
for bars, vals, col in [(band_a_bars, band_a_vals, "#f44336"), (band_b_bars, band_b_vals, "#f44336"),
                        (band_c_bars, band_c_vals, "#f44336"), (band_d_bars, band_d_vals, "#4caf50"),
                        (band_e_bars, band_e_vals, "#4caf50"), (band_f_bars, band_f_vals, "#4caf50")]:
    draw_line(ax, bars, vals, col, 1.3, alpha=0.15)

# drawings
draw_line(ax, [X_MIN, X_MAX], [4603, 4566.5], "#c3c3cb", 2.0, zorder=4)
for p in [((280.1, 377.4), (4245.5, 4647.8)), ((280.1, 395.8), (4173.3, 4649.7)), ((280.1, 398.9), (4101.8, 4589.7))]:
    draw_line(ax, p[0], p[1], "#d4d4d8", 1.2, zorder=4)
draw_line(ax, (356.2, 388.8), (4525.4, 4582), "#c3c3cb", 2.0, zorder=4)
draw_line(ax, (362.9, 385.8), (4487.7, 4532.4), "#c3c3cb", 2.0, zorder=4)
for lvl, name, lc, tc in zip(fib_levels, fib_names, fib_line_colors, fib_text_colors):
    ax.hlines(lvl, 248.9, 370.9, color=lc, lw=1.05, zorder=4)
    ax.text(247.4, lvl, name, color=tc, fontsize=9, ha="right", va="center", zorder=2)
ax.text(248, 4017.5, "-0.272 (4017.5)", color="#5d606b", fontsize=9, ha="right", va="center", clip_on=True)
for lvl, name in zip(pivot_levels, pivot_names):
    ax.hlines(lvl, 370.9, 401, color="#b2b5be", lw=1.5, zorder=4)
    ax.text(368.1, lvl, name, color="#b2b5be", fontsize=9, ha="right", va="center", zorder=2)
ax.hlines([4468.6, 4170.8], 292.9, X_MAX, color="#e79df5", lw=2.2, zorder=4)
ax.hlines([4564.6, 4509.7], 383, X_MAX, color="#3de28f", lw=1.5, zorder=4)
ax.hlines(4400.8, 370.9, X_MAX, color="#ff9800", lw=1.5, zorder=4)
ax.hlines(4535.1, X_MIN, X_MAX, color=GREEN, lw=1.1, linestyles=(0, (1, 1.5)), zorder=4)
ax.hlines(4362, X_MIN, X_MAX, color=RED, lw=2.3, zorder=6)

# candles
bars_x = np.arange(len(opens))
o, c, h_, l_ = map(np.array, (opens, closes, highs, lows))
up = c >= o
ax.vlines(bars_x, l_, h_, color="black", lw=1.05, zorder=5)
body_low = np.minimum(o, c)
body_h = np.maximum(np.abs(c - o), 1.4)
ax.bar(bars_x, body_h, bottom=body_low, width=0.84, color=np.where(up, GREEN, RED), linewidth=0, zorder=5)

# signal dots, forecast path, alert icon
ax.scatter(signal_red_bars, signal_red_vals, s=44, color="#f7575a", alpha=0.5, linewidth=0, zorder=4)
ax.scatter(signal_green_bars, signal_green_vals, s=44, color="#4caf50", alpha=0.5, linewidth=0, zorder=4)
draw_line(ax, path_bars, path_vals, "#2f5fd0", 1.5, zorder=7)
ax.annotate("", xy=(path_bars[-1], path_vals[-1]), xytext=(path_bars[-2], path_vals[-2]),
            arrowprops=dict(arrowstyle="->", color="#2f5fd0", lw=1.05, mutation_scale=12), zorder=7)
ax.scatter([384], [4027.7], s=180, facecolor="none", edgecolor="#9c27b0", linewidth=1.5, zorder=7)
ax.text(384, 4027.7, "\u26a1", family="DejaVu Sans", color="#9c27b0", fontsize=8, ha="center", va="center", zorder=7)
ax.scatter([385.1], [4031.9], s=16, color="#f23645", linewidth=0, zorder=8)

ax.set_xlim(X_MIN, X_MAX)
ax.set_ylim(Y_MIN, Y_MAX)
ax.set_xticks([])
ax.yaxis.tick_right()
ax.set_yticks(price_ticks, ["%.1f" % p for p in price_ticks])
ax.tick_params(axis="y", length=0, pad=5, labelsize=9, labelcolor=TXT)
for s in ax.spines.values():
    s.set_visible(False)
ax_left.set_xlim(0, 2694 - 65.5)
ax_right.set_xlim(2396 - 65.5, 2396 - 2694)

# RSI pane
ax_rsi = pane(65.5, 1014, 2694, 1127)
ax_rsi.patch.set_visible(False)
draw_line(ax_rsi, [0, 384], [0, 0], "#5d606b", 1.8, zorder=2)
for xs, ys in sign_runs(rsi_bars, rsi_vals):
    col = "#82c886" if np.mean(ys) >= 0 else "#f7857e"
    draw_line(ax_rsi, xs, ys, col, 3.9, zorder=3)
ax_rsi.set_xlim(X_MIN, X_MAX)
ax_rsi.set_ylim(-105.5, 105.5)
ax_rsi.set_xticks([])
ax_rsi.set_yticks([])
for s in ax_rsi.spines.values():
    s.set_visible(False)

# stochastic pane
ax_st = pane(65.5, 1127, 2694, 1205)
ax_st.patch.set_visible(False)
ax_st.hlines(stoch_levels[0], X_MIN, X_MAX, color="#f44336", lw=1.1, zorder=2)
ax_st.hlines(stoch_levels[1], X_MIN, X_MAX, color="#5d606b", lw=1.1, zorder=2)
ax_st.hlines(49.5, X_MIN, X_MAX, color="#b2b5be", lw=0.9, linestyles="--", zorder=2)
ax_st.hlines(stoch_levels[2], X_MIN, X_MAX, color="#5d606b", lw=1.1, zorder=2)
ax_st.hlines(stoch_levels[3], X_MIN, X_MAX, color="#4caf50", lw=1.1, zorder=2)
draw_line(ax_st, slow_g_bars, slow_g_vals, "#4caf50", 1.4, zorder=3)
draw_line(ax_st, slow_r_bars, slow_r_vals, "#f44336", 1.4, zorder=3)
draw_line(ax_st, fast_g_bars, fast_g_vals, "#4caf50", 1.2, zorder=4)
draw_line(ax_st, fast_r_bars, fast_r_vals, "#f44336", 1.2, zorder=4)
ax_st.set_xlim(X_MIN, X_MAX)
ax_st.set_ylim(-10.6, 112.6)
ax_st.set_yticks([])
ax_st.set_xticks(tick_bars, tick_names)
ax_st.tick_params(axis="x", length=0, pad=5, labelsize=9, labelcolor=TXT)
for lab in ax_st.get_xticklabels():
    if lab.get_text() in ("Sep", "Oct", "Nov", "Dec"):
        lab.set_fontweight("bold")
for s in ax_st.spines.values():
    s.set_visible(False)

# frame and separators
px_line(10, 1014, 2750, 1014, SEP, 1.6)
px_line(10, 1127, 2750, 1127, SEP, 1.6)
px_line(10, 1205, 2750, 1205, AXIS, 1.2)
px_line(65.5, 27, 65.5, 1232, AXIS, 1.2)
px_line(2694, 27, 2694, 1232, AXIS, 1.2)
px_line(10, 27, 2750, 27, AXIS, 1.2)
px_line(10, 1232, 2750, 1232, AXIS, 1.0)

# pane labels
fig.text(2717 / W, 1 - 42 / H, "USD", fontsize=9, color=TXT, ha="center", va="center", zorder=9)
right_box = (2695, 1014, 2750, 1127)
clipped_text(2701, 1017.7, "100.0", right_box, fontsize=9, color=TXT, va="center")
clipped_text(2701, 1071, "0.0", right_box, fontsize=9, color=TXT, va="center")
clipped_text(2701, 1125, "-100.0", right_box, fontsize=9, color=TXT, va="center")
for yy, s in [(1135, "100.00"), (1166, "50.00"), (1198.3, "0.00")]:
    fig.text(2701 / W, 1 - yy / H, s, fontsize=9, color=TXT, va="center", zorder=9)
    fig.text(57 / W, 1 - yy / H, s, fontsize=9, color=TXT, va="center", ha="right", zorder=9)
clipped_text(82, 1219, "14:00", (66, 1205, 200, 1232), fontsize=9, color=TXT, va="center", ha="right")

# last price tag
fig.add_artist(Rectangle(to_fig(2694, 228), 51 / W, 30 / H, transform=fig.transFigure, facecolor=GREEN,
                         edgecolor="none", zorder=11))
fig.text(2720 / W, 1 - 206 / H, "4535.0", fontsize=9, color="white", ha="center", va="center", zorder=12)
fig.text(2720 / W, 1 - 219 / H, "34:29", fontsize=9, color="#cfe6cf", ha="center", va="center", zorder=12)

# scale buttons
for cx, s in [(38, "Z"), (2722, "A")]:
    fig.add_artist(Rectangle(to_fig(cx - 9, 1229), 18 / W, 20 / H, transform=fig.transFigure, facecolor="#f0f3fa",
                             edgecolor="none", zorder=8))
    fig.text(cx / W, 1 - 1219 / H, s, fontsize=9, color="#50535e", ha="center", va="center", zorder=9)

# header and footer
fig.text(10 / W, 1 - 15 / H, "Tickmill published on TradingView.com, Nov 22, 2023 01:25 UTC-5", fontsize=9.3,
         color="#d1d4dc", ha="left", va="center", zorder=9)
fig.text(33 / W, 1 - 1252 / H, "TradingView", fontsize=11, color="#d1d4dc", ha="left", va="center", zorder=9)
fig.add_artist(Rectangle(to_fig(11, 1249), 8 / W, 3 / H, transform=fig.transFigure, facecolor="white", edgecolor="none", zorder=9))
fig.add_artist(Rectangle(to_fig(14, 1255), 5 / W, 9 / H, transform=fig.transFigure, facecolor="white", edgecolor="none", zorder=9))
fig.add_artist(Polygon([to_fig(22, 1255), to_fig(26, 1246), to_fig(30, 1246), to_fig(26, 1255)], closed=True,
                       transform=fig.transFigure, facecolor="white", edgecolor="none", zorder=9))

fig.savefig("out.png", dpi=100, facecolor=DARK)
